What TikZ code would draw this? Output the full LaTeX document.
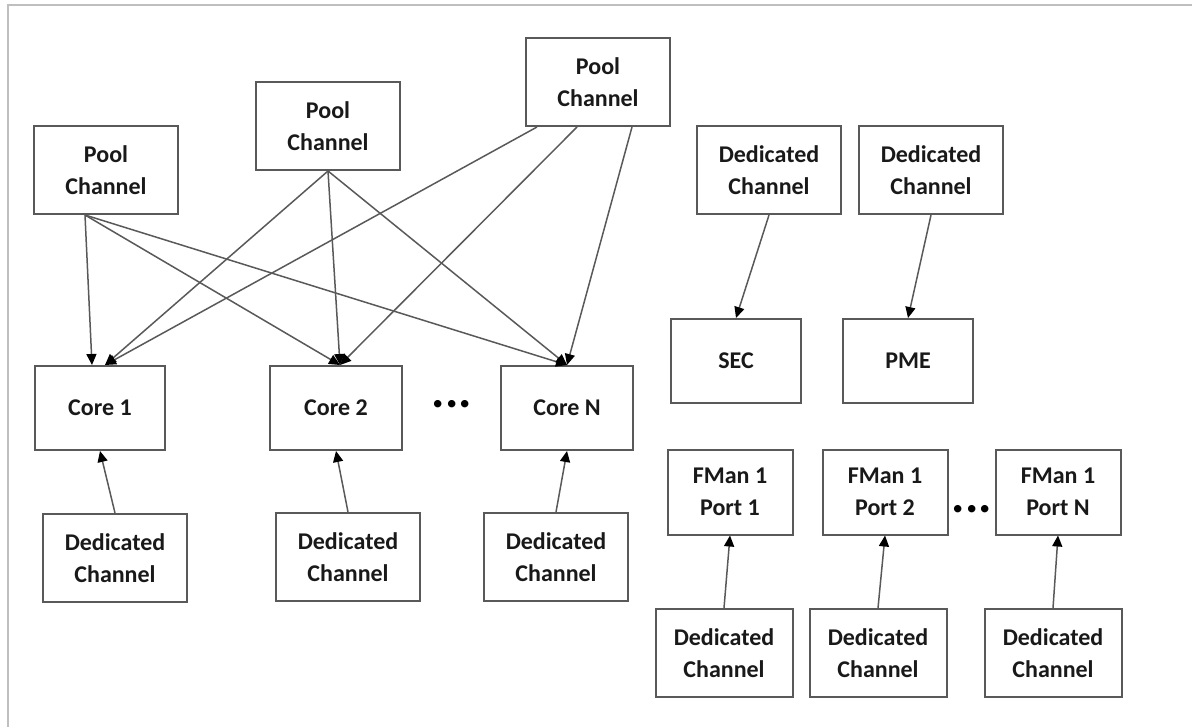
\documentclass[tikz,border=0pt]{standalone}
\usepackage{fontspec}
\setmainfont{Carlito}
\usetikzlibrary{arrows.meta}

\tikzset{
  box/.style={draw=black!65, line width=1pt, fill=white, align=center, inner sep=0pt,
    font=\fontsize{12}{16}\selectfont\bfseries, text=black!90},
  chan/.style={box, minimum width=72pt, minimum height=44pt},
  unit/.style={box, minimum width=65pt, minimum height=42pt},
  port/.style={box, minimum width=62.5pt, minimum height=42.5pt},
  dchan/.style={box, minimum width=68.5pt, minimum height=44pt},
  link/.style={draw=black!65, line width=0.75pt, -{Triangle[length=5.5pt,width=5pt,color=black]}},
  dots/.style={font=\fontsize{25}{25}\selectfont\bfseries}
}

\begin{document}
\begin{tikzpicture}[x=0.5pt,y=-0.5pt]
  \useasboundingbox (0,0) rectangle (1192,727);
  \draw[black!25,line width=1pt] (8,727) -- (8,5) -- (1192,5);

  % pool channels and cores
  \node[chan] (pool1) at (106,170) {Pool\\Channel};
  \node[chan] (pool2) at (328,126) {Pool\\Channel};
  \node[chan] (pool3) at (598,82) {Pool\\Channel};
  \node[unit] (core1) at (100,408) {Core 1};
  \node[unit,minimum width=66pt] (core2) at (336,408) {Core 2};
  \node[unit,minimum width=66pt] (coren) at (567,408) {Core N};
  \node[dots] (cdots) at (452,404) {...};
  \node[chan] (dcore1) at (115,558) {Dedicated\\Channel};
  \node[chan] (dcore2) at (348,557) {Dedicated\\Channel};
  \node[chan] (dcoren) at (556,557) {Dedicated\\Channel};

  \draw[link] ([xshift=-10.5pt]pool1.south) -- ([xshift=-4pt]core1.north);
  \draw[link] ([xshift=-10.5pt]pool1.south) -- ([xshift=2pt]core2.north);
  \draw[link] ([xshift=-10.5pt]pool1.south) -- (coren.north);
  \draw[link] (pool2.south) -- ([xshift=2.5pt]core1.north);
  \draw[link] (pool2.south) -- ([xshift=2pt]core2.north);
  \draw[link] (pool2.south) -- (coren.north);
  \draw[link] ([xshift=-30.5pt]pool3.south) -- ([xshift=2.5pt]core1.north);
  \draw[link] ([xshift=-10.5pt]pool3.south) -- ([xshift=2pt]core2.north);
  \draw[link] ([xshift=17pt]pool3.south) -- (coren.north);

  \draw[link] (dcore1.north) -- (core1.south);
  \draw[link] (dcore2.north) -- (core2.south);
  \draw[link] (dcoren.north) -- (coren.south);

  % SEC and PME
  \node[chan] (dsec) at (769,170) {Dedicated\\Channel};
  \node[chan] (dpme) at (931,170) {Dedicated\\Channel};
  \node[unit] (sec) at (736,361) {SEC};
  \node[unit] (pme) at (908,361) {PME};
  \draw[link] (dsec.south) -- (sec.north);
  \draw[link] (dpme.south) -- (pme.north);

  % FMan ports
  \node[port] (port1) at (730,492) {FMan 1\\Port 1};
  \node[port] (port2) at (885,492) {FMan 1\\Port 2};
  \node[port] (portn) at (1058,492) {FMan 1\\Port N};
  \node[dots] (pdots) at (972,509) {...};
  \node[dchan] (dport1) at (724,653) {Dedicated\\Channel};
  \node[dchan] (dport2) at (878,653) {Dedicated\\Channel};
  \node[dchan] (dportn) at (1053,653) {Dedicated\\Channel};
  \draw[link] (dport1.north) -- (port1.south);
  \draw[link] (dport2.north) -- (port2.south);
  \draw[link] (dportn.north) -- (portn.south);
\end{tikzpicture}
\end{document}
